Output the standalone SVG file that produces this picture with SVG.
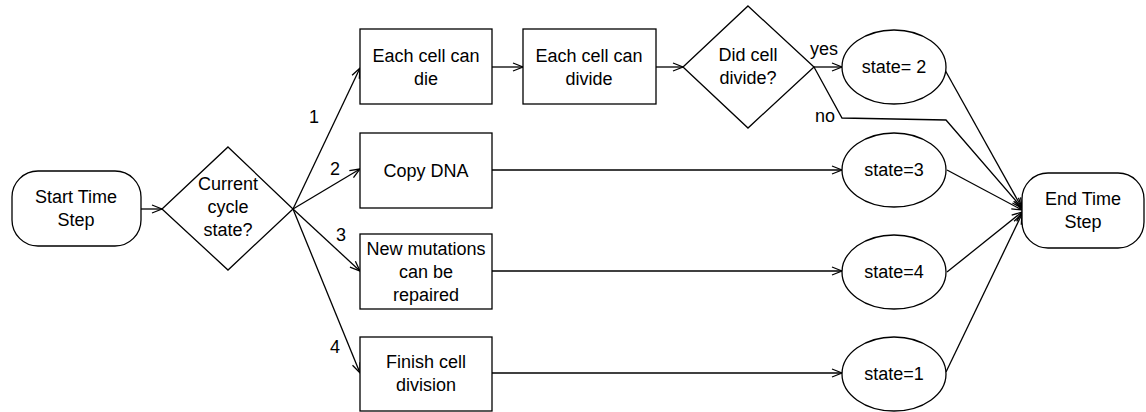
<svg xmlns="http://www.w3.org/2000/svg" width="1146" height="412" viewBox="0 0 1146 412">
<style>
.n{fill:#fff;stroke:#000;stroke-width:1.3}
.t{font-family:"Liberation Sans",Arial,sans-serif;font-size:18px;fill:#000;text-anchor:middle}
.c{fill:none;stroke:#000;stroke-width:1.3}
</style>
<defs>
<marker id="a" viewBox="0 0 12 10" refX="11" refY="5" markerWidth="12" markerHeight="10" markerUnits="userSpaceOnUse" orient="auto">
<path d="M1,1 L11,5 L1,9" fill="none" stroke="#000" stroke-width="1.3"/>
</marker>
</defs>
<g id="connectors">
<line class="c" x1="141" y1="209" x2="162" y2="209" marker-end="url(#a)"/>
<line class="c" x1="293" y1="209" x2="360" y2="68" marker-end="url(#a)"/>
<line class="c" x1="293" y1="209" x2="360" y2="169" marker-end="url(#a)"/>
<line class="c" x1="293" y1="209" x2="360" y2="271" marker-end="url(#a)"/>
<line class="c" x1="293" y1="209" x2="360" y2="373" marker-end="url(#a)"/>
<line class="c" x1="492" y1="67" x2="523" y2="67" marker-end="url(#a)"/>
<line class="c" x1="656" y1="67" x2="683" y2="67" marker-end="url(#a)"/>
<line class="c" x1="814" y1="67" x2="842" y2="67" marker-end="url(#a)"/>
<polyline class="c" points="814,67 842,118 946,120 1022,208" marker-end="url(#a)"/>
<line class="c" x1="492" y1="170" x2="842" y2="170" marker-end="url(#a)"/>
<line class="c" x1="492" y1="271" x2="842" y2="271" marker-end="url(#a)"/>
<line class="c" x1="492" y1="373" x2="842" y2="373" marker-end="url(#a)"/>
<line class="c" x1="945" y1="70" x2="1022" y2="208" marker-end="url(#a)"/>
<line class="c" x1="947" y1="170" x2="1022" y2="210" marker-end="url(#a)"/>
<line class="c" x1="947" y1="272" x2="1022" y2="212" marker-end="url(#a)"/>
<line class="c" x1="946" y1="372" x2="1022" y2="214" marker-end="url(#a)"/>
<text class="t" x="314" y="123">1</text>
<text class="t" x="335" y="175">2</text>
<text class="t" x="341" y="241">3</text>
<text class="t" x="335" y="353">4</text>
<text class="t" x="824" y="55">yes</text>
<text class="t" x="825" y="122">no</text>
</g>
<g id="start">
<rect class="n" x="12" y="171" width="129" height="75" rx="26" ry="26"/>
<text class="t" x="76" y="203">Start Time</text>
<text class="t" x="76" y="226">Step</text>
</g>
<g id="current">
<polygon class="n" points="228,147 293,209 228,270 162,209"/>
<text class="t" x="228" y="190">Current</text>
<text class="t" x="228" y="213">cycle</text>
<text class="t" x="228" y="236">state?</text>
</g>
<g id="die">
<rect class="n" x="360" y="29" width="132" height="75"/>
<text class="t" x="426" y="62">Each cell can</text>
<text class="t" x="426" y="85">die</text>
</g>
<g id="divide">
<rect class="n" x="523" y="29" width="133" height="75"/>
<text class="t" x="589" y="62">Each cell can</text>
<text class="t" x="589" y="85">divide</text>
</g>
<g id="didDivide">
<polygon class="n" points="748,6 814,67 748,128 683,67"/>
<text class="t" x="748" y="61">Did cell</text>
<text class="t" x="748" y="84">divide?</text>
</g>
<g id="copy">
<rect class="n" x="360" y="133" width="132" height="75"/>
<text class="t" x="426" y="177">Copy DNA</text>
</g>
<g id="mutations">
<rect class="n" x="360" y="234" width="132" height="75"/>
<text class="t" x="426" y="255">New mutations</text>
<text class="t" x="426" y="278">can be</text>
<text class="t" x="426" y="301">repaired</text>
</g>
<g id="finish">
<rect class="n" x="360" y="337" width="132" height="74"/>
<text class="t" x="426" y="368">Finish cell</text>
<text class="t" x="426" y="391">division</text>
</g>
<g id="state2">
<ellipse class="n" cx="894" cy="67" rx="52" ry="37"/>
<text class="t" x="894" y="73">state= 2</text>
</g>
<g id="state3">
<ellipse class="n" cx="894" cy="170" rx="52" ry="37"/>
<text class="t" x="894" y="176">state=3</text>
</g>
<g id="state4">
<ellipse class="n" cx="894" cy="272" rx="52" ry="37"/>
<text class="t" x="894" y="278">state=4</text>
</g>
<g id="state1">
<ellipse class="n" cx="894" cy="374" rx="52" ry="37"/>
<text class="t" x="894" y="380">state=1</text>
</g>
<g id="end">
<rect class="n" x="1022" y="173" width="122" height="75" rx="26" ry="26"/>
<text class="t" x="1083" y="205">End Time</text>
<text class="t" x="1083" y="228">Step</text>
</g>
</svg>
